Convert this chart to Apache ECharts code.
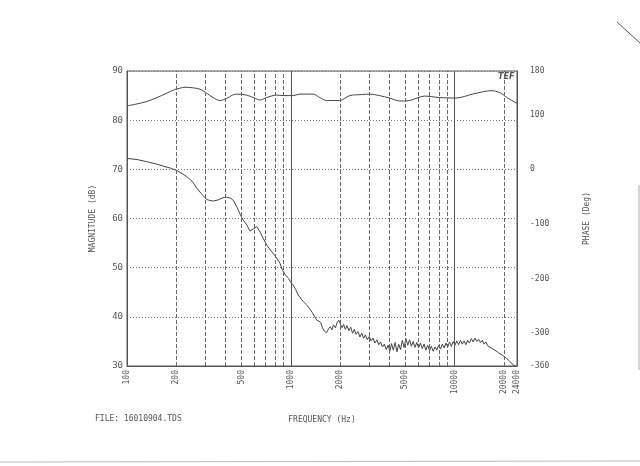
<!DOCTYPE html>
<html><head><meta charset="utf-8">
<script src="https://cdn.jsdelivr.net/npm/echarts@6/dist/echarts.min.js"></script>
<style>html,body{margin:0;padding:0;background:#fff}#c{width:640px;height:466px}</style>
</head><body><div id="c"></div>
<script>
// Frequency tick labels (Hz)
const freqLabels = [100, 200, 500, 1000, 2000, 5000, 10000, 20000, 24000];
// Vertical grid lines (Hz)
const dashedGrid = [200, 300, 400, 500, 600, 700, 800, 900, 2000, 3000, 4000, 5000, 6000, 7000, 8000, 9000, 20000];
const solidGrid = [1000, 10000];
// Left axis (dB) and right axis (Deg) ticks
const magTicks = [30, 40, 50, 60, 70, 80, 90];
const phaseTicks = [180, 100, 0, -100, -200, -300, -360];

// Magnitude curve (Hz, dB)
const magFreq = [100,115,132,150,175,195,210,226,250,279,306,335,369,405,440,466,537,600,647,711,817,900,1034,1134,1371,1500,1655,1989,2289,2700,3023,3478,4000,4610,5303,6539,8060,10190,12870,15000,16700,18870,21040,24000];
const magDb = [82.9,83.3,83.8,84.5,85.5,86.2,86.5,86.7,86.6,86.3,85.5,84.6,84.0,84.4,85.1,85.3,85.1,84.5,84.1,84.6,85.1,85.0,85.0,85.3,85.3,84.6,84.0,84.0,85.0,85.2,85.3,85.0,84.5,83.9,84.0,84.9,84.6,84.5,85.3,85.8,86.0,85.6,84.5,83.4];

// Phase curve (Hz, Deg)
const phaseFreq = [100,115,132,150,166,185,201,231,250,266,285,306,320,336,360,385,405,430,446,470,490,512,535,563,590,620,650,680,711,750,800,859,890,924,970,1000,1034,1070,1110,1166,1210,1248,1311,1350,
1400,1440,1480,1520,1560,1600,1650,1700,1740,1780,1820,1870,1920,1960,2000,2050,2100,2150,2200,2260,2320,2380,2440,2500,2570,2640,2710,2780,2850,2930,3010,3090,3170,3260,3350,3440,3530,3620,3720,3820,3920,4020,4120,4220,4330,4440,4550,4670,4790,4910,5040,5170,5300,5440,5580,5720,5870,6020,6180,6340,6500,6670,6840,7020,7200,7390,7580,7780,7980,8190,8400,8620,8840,9070,9300,9540,9790,10040,10300,10570,10840,11120,11410,11700,12000,12310,12630,12960,13300,13640,14000,14360,14730,15110,15500,15900,16310,16730,17160,17600,18060,18530,19010,19500,20000,20520,21050,21600,22150,22720,23310,24000];
const phaseDeg = [20,18,14,10,6,2,-2,-13,-22,-34,-45,-55,-57,-58,-56,-52,-51,-53,-57,-70,-82,-93,-100,-113,-109,-105,-115,-127,-138,-148,-158,-172,-185,-193,-200,-207,-212,-220,-230,-239,-244,-248,-256,-262,
-270,-276,-273,-280,-290,-296,-299,-292,-288,-294,-285,-290,-280,-276,-282,-290,-284,-293,-286,-295,-289,-300,-293,-302,-297,-307,-300,-309,-303,-312,-306,-314,-309,-318,-312,-321,-316,-325,-320,-330,-322,-333,-319,-331,-317,-334,-320,-330,-313,-326,-310,-322,-312,-324,-315,-326,-317,-327,-318,-328,-320,-331,-322,-332,-324,-333,-325,-331,-322,-329,-320,-327,-318,-325,-316,-324,-315,-322,-314,-321,-313,-320,-314,-321,-313,-318,-310,-316,-309,-315,-311,-317,-313,-320,-316,-323,-320,-327,-324,-331,-329,-336,-334,-340,-339,-345,-344,-351,-352,-358,-359,-362];

const FONT = 'DejaVu Sans Mono';
const TXT = '#555';
const LINE = '#444';

const chart = echarts.init(document.getElementById('c'), null, {renderer: 'canvas'});
chart.setOption({
  animation: false,
  backgroundColor: '#fff',
  grid: {left: 127, right: 123, top: 71, bottom: 100, show: true, borderColor: '#555', borderWidth: 1},
  xAxis: {
    type: 'log', logBase: 10, min: 100, max: 24000,
    name: 'FREQUENCY (Hz)', nameLocation: 'middle', nameGap: 50,
    nameTextStyle: {fontFamily: FONT, fontSize: 8, color: TXT},
    axisLine: {onZero: false, lineStyle: {color: '#555'}},
    axisTick: {show: false},
    splitLine: {show: false},
    minorTick: {show: false},
    axisLabel: {customValues: freqLabels, rotate: 90, margin: 4, fontFamily: FONT, fontSize: 8, color: TXT,
      formatter: v => String(Math.round(v))}
  },
  yAxis: [{
    type: 'value', min: 30, max: 90, interval: 10, position: 'left',
    name: 'MAGNITUDE (dB)', nameLocation: 'middle', nameGap: 30, nameRotate: 90,
    nameTextStyle: {fontFamily: FONT, fontSize: 8, color: TXT},
    axisLine: {show: true, onZero: false, lineStyle: {color: '#555'}},
    axisTick: {show: false},
    axisLabel: {customValues: magTicks, margin: 4, fontFamily: FONT, fontSize: 9, color: TXT},
    splitLine: {show: true, lineStyle: {color: '#777', type: [1, 2], width: 1}}
  }, {
    type: 'value', min: -360, max: 180, position: 'right',
    name: 'PHASE (Deg)', nameLocation: 'middle', nameGap: 66, nameRotate: 90,
    nameTextStyle: {fontFamily: FONT, fontSize: 8, color: TXT},
    axisLine: {show: true, onZero: false, lineStyle: {color: '#555'}},
    axisTick: {show: false},
    axisLabel: {customValues: phaseTicks, margin: 13, padding: [5, 0, 0, 0], fontFamily: FONT, fontSize: 8, color: TXT},
    splitLine: {show: false}
  }],
  series: [{
    type: 'line', name: 'Magnitude', yAxisIndex: 0, showSymbol: false, smooth: 0.3,
    lineStyle: {color: LINE, width: 1},
    data: magFreq.map((f, i) => [f, magDb[i]]),
    markLine: {
      silent: true, symbol: 'none', label: {show: false},
      data: dashedGrid.map(f => ({xAxis: f, lineStyle: {color: '#666', type: [4, 2], width: 1}}))
        .concat(solidGrid.map(f => ({xAxis: f, lineStyle: {color: '#555', type: 'solid', width: 1}})))
    }
  }, {
    type: 'line', name: 'Phase', yAxisIndex: 1, showSymbol: false,
    lineStyle: {color: LINE, width: 1},
    data: phaseFreq.map((f, i) => [f, phaseDeg[i]])
  }],
  graphic: [
    {type: 'text', left: 95, top: 415, style: {text: 'FILE: 16010904.TDS', font: '8px "DejaVu Sans Mono"', fill: TXT}},
    {type: 'text', left: 498, top: 73, style: {text: 'TEF', font: 'italic bold 8px "DejaVu Sans"', fill: '#555'}},
    {type: 'line', shape: {x1: 617, y1: 22, x2: 640, y2: 43}, style: {stroke: '#555', lineWidth: 1}},
    {type: 'line', shape: {x1: 0, y1: 462, x2: 640, y2: 461}, style: {stroke: '#bbb', lineWidth: 1}},
    {type: 'line', shape: {x1: 639, y1: 185, x2: 639, y2: 370}, style: {stroke: '#aaa', lineWidth: 1}}
  ]
});
</script></body></html>
